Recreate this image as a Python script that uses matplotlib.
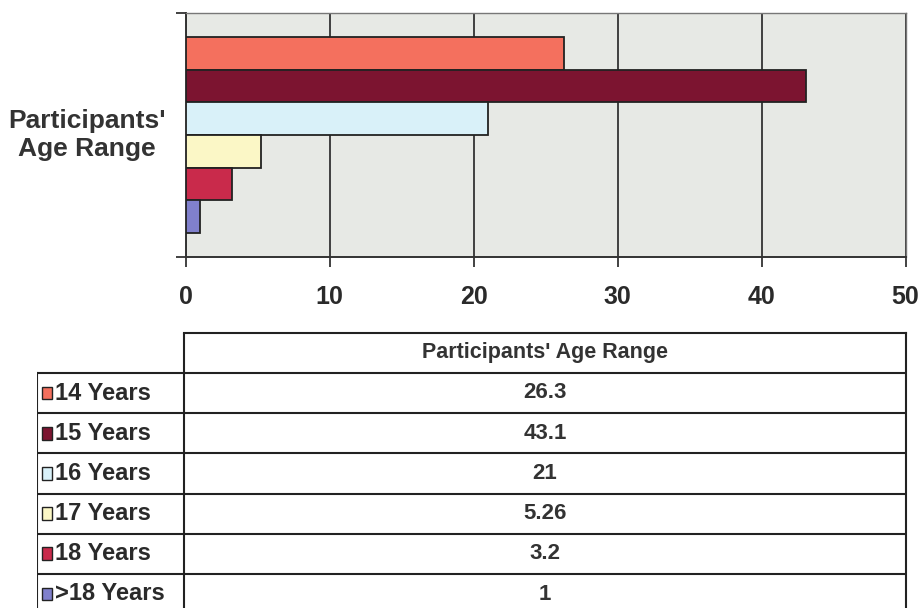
import numpy as np
import matplotlib
matplotlib.use("Agg")
import matplotlib.pyplot as plt
from matplotlib.patches import Rectangle

plt.rcParams["font.family"] = ["Liberation Sans", "DejaVu Sans"]

# data
series_name = "Participants' Age Range"
ages = ["14 Years", "15 Years", "16 Years", "17 Years", "18 Years", ">18 Years"]
values = [26.3, 43.1, 21, 5.26, 3.2, 1]
value_labels = ["26.3", "43.1", "21", "5.26", "3.2", "1"]
colors = ["#f4705e", "#7c1430", "#d9f1f9", "#fbf7c6", "#c92a4b", "#8080cc"]
xticks = [0, 10, 20, 30, 40, 50]

W, H = 921, 608
fig = plt.figure(figsize=(W / 100, H / 100), dpi=100)
txt_col = "#2a2a2a"


def px_box(x0, y0, x1, y1):
    # pixel box (top-left origin) -> figure fraction rect
    return [x0 / W, 1 - y1 / H, (x1 - x0) / W, (y1 - y0) / H]


# ---- bar chart ----
ax = fig.add_axes(px_box(185.6, 13, 905.5, 257))
ax.set_facecolor("#e7e9e5")
n = len(values)
h = 0.8 / n
ypos = 0.4 - h * (np.arange(n) + 0.5)
ax.barh(ypos, values, height=h, color=colors, edgecolor="#222222", linewidth=1.3, zorder=3)
ax.set_xlim(0, 50)
ax.set_ylim(-0.5, 0.5)
ax.set_xticks(xticks)
ax.set_xticklabels([str(t) for t in xticks], fontsize=18, fontweight="bold", color=txt_col)
ax.set_yticks([-0.5, 0.5])
ax.set_yticklabels([])
ax.tick_params(axis="x", length=7, width=1.3, color="#333333", pad=13)
ax.tick_params(axis="y", length=7, width=1.3, color="#333333")
ax.grid(axis="x", color="#333333", linewidth=1.3, zorder=1)
for s in ["left", "bottom"]:
    ax.spines[s].set_color("#333333")
    ax.spines[s].set_linewidth(1.4)
for s in ["top", "right"]:
    ax.spines[s].set_color("#777777")
    ax.spines[s].set_linewidth(1.0)

fig.text(87 / W, 1 - 135 / H, "Participants'\nAge Range", ha="center", va="center",
         fontsize=19, fontweight="bold", color="#333333", linespacing=1.25)

# ---- data table ----
tab = fig.add_axes(px_box(36.5, 332.7, 906, 608))
tab.set_axis_off()
row_h = 40.2
tab.set_xlim(36.5, 906)
tab.set_ylim((608 - 332.7) / row_h, 0)
split = 184
lc = "#222222"
nrows = len(ages) + 1
# horizontal lines
tab.plot([split, 906], [0, 0], color=lc, lw=1.5, clip_on=False)
for r in range(1, nrows + 1):
    tab.plot([36.5, 906], [r, r], color=lc, lw=1.5)
# vertical lines
tab.plot([36.5, 36.5], [1, nrows], color=lc, lw=1.5)
tab.plot([split, split], [0, nrows], color=lc, lw=1.5)
tab.plot([906, 906], [0, nrows], color=lc, lw=1.5, clip_on=False)

vc = (split + 906) / 2
tab.text(vc, 0.5, series_name, ha="center", va="center", fontsize=15.5,
         fontweight="bold", color="#333333")
for i, (lab, txt, c) in enumerate(zip(ages, value_labels, colors)):
    yc = i + 1.5
    tab.add_patch(Rectangle((41.5, yc - 0.16), 10, 0.32, facecolor=c,
                            edgecolor="#222222", lw=1.0))
    tab.text(55, yc, lab, ha="left", va="center", fontsize=17, fontweight="bold", color=txt_col)
    tab.text(vc, yc, txt, ha="center", va="center", fontsize=16, fontweight="bold",
             color="#333333")

fig.savefig("out.png", dpi=100)
